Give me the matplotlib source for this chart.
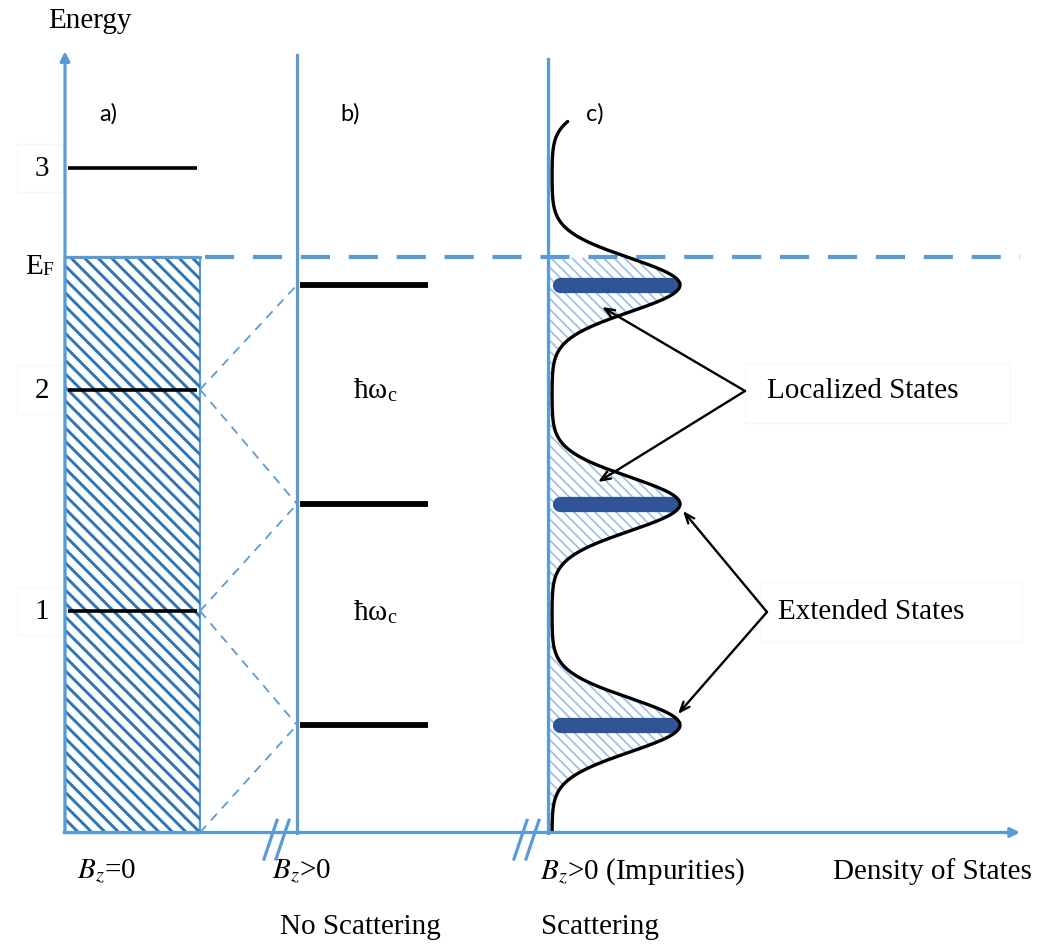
import numpy as np
import matplotlib
matplotlib.use("Agg")
import matplotlib.pyplot as plt
from matplotlib.patches import Polygon, Rectangle
from matplotlib.collections import LineCollection

# ---- data (energies in units of the zero-field level spacing) ----
zero_field_levels = [1.0, 2.0, 3.0]
zero_field_labels = ["1", "2", "3"]
landau_levels = [0.485, 1.483, 2.472]
dos_peak_energies = [0.485, 1.483, 2.472, 3.46]
fermi_energy = 2.596
dos_peak_height = 128.0      # broadened DOS peak height (arb. units)
dos_background = 4.0         # DOS between peaks
dos_broadening = 0.122       # Gaussian width of each broadened level
dos_curve_top = 3.21         # energy where the drawn DOS curve stops
connector_pairs = [(0.0, 0.485), (1.0, 0.485), (1.0, 1.483), (2.0, 1.483), (2.0, 2.472)]

# ---- styling ----
AXIS_BLUE = "#5b9bd5"
HATCH_BLUE = "#2e75b6"
LIGHT_HATCH = "#9dc3e6"
BAR_BLUE = "#2f5597"
BOX_GREY = "#f7f7f7"
SERIF = "Liberation Serif"
SANS = "Lato"
plt.rcParams["mathtext.fontset"] = "stix"

W, H = 1045, 945
PX_PER_E = 221.5
E0_PX = 833.5

fig = plt.figure(figsize=(W / 100, H / 100), dpi=100)
ax = fig.add_axes([0, 0, 1, 1])
ax.set_xlim(0, W)
ax.set_ylim(-(H - E0_PX) / PX_PER_E, E0_PX / PX_PER_E)
ax.axis("off")

# panel origins on the density-of-states axis
XA, XB, XC = 65, 297, 548
X_END = 1020
Y_TOP_A, Y_TOP_B, Y_TOP_C = 3.527, 3.51, 3.49


def hatch(patch, spacing, color, lw):
    """Diagonal (top-left to bottom-right) hatching clipped to a patch."""
    ext = patch.get_window_extent()
    x0, y0, x1, y1 = ext.x0, ext.y0, ext.x1, ext.y1
    h = y1 - y0
    segs = []
    inv = ax.transData.inverted()
    c = x0 - h
    while c < x1:
        segs.append(inv.transform([(c, y1), (c + h, y0)]))
        c += spacing
    lc = LineCollection(segs, colors=color, linewidths=lw, zorder=patch.get_zorder() + 0.1)
    ax.add_collection(lc)
    lc.set_clip_path(patch)


def epx(y_px):
    """Energy value at a given image row."""
    return (E0_PX - y_px) / PX_PER_E


# ---- panel a): B = 0, continuous spectrum filled up to E_F ----
rect = Rectangle((XA, 0), 200 - XA, fermi_energy, facecolor="white",
                 edgecolor=AXIS_BLUE, lw=1.6, zorder=2)
ax.add_patch(rect)
hatch(rect, 13.5, HATCH_BLUE, 2.1)
for e in zero_field_levels:
    ax.plot([XA + 3, 197], [e, e], color="black", lw=2.6, zorder=4, solid_capstyle="butt")

# connectors between zero-field levels and Landau levels
for e_a, e_b in connector_pairs:
    ax.plot([200, XB], [e_a, e_b], color=AXIS_BLUE, lw=1.3, ls=(0, (5, 4)), zorder=1)

# ---- panel b): Landau levels without scattering ----
for e in landau_levels:
    ax.plot([XB + 3, 428], [e, e], color="black", lw=4.2, zorder=4, solid_capstyle="butt")

# ---- panel c): broadened Landau levels ----
E = np.linspace(0.0, dos_curve_top, 800)
dos = dos_background + sum(dos_peak_height * np.exp(-(E - ec) ** 2 / (2 * dos_broadening ** 2))
                           for ec in dos_peak_energies)
filled = E <= fermi_energy
poly_pts = np.vstack([
    np.column_stack([XC + dos[filled], E[filled]]),
    [[XC, E[filled][-1]], [XC, 0.0]],
])
fill_poly = Polygon(poly_pts, closed=True, facecolor="none", edgecolor="none", zorder=2)
ax.add_patch(fill_poly)
hatch(fill_poly, 10.5, LIGHT_HATCH, 1.3)
ax.plot(XC + dos, E, color="black", lw=2.4, zorder=5, solid_capstyle="round")
for e in landau_levels:
    ax.plot([XC + 12, XC + dos_background + dos_peak_height - 9], [e, e],
            color=BAR_BLUE, lw=11, zorder=4, solid_capstyle="round")

# ---- Fermi level ----
ax.plot([XA, 200], [fermi_energy, fermi_energy], color=AXIS_BLUE, lw=2.2, zorder=3)
ax.plot([205, X_END], [fermi_energy, fermi_energy], color=AXIS_BLUE, lw=3.0,
        ls=(0, (7, 4.5)), zorder=3, dash_capstyle="butt")

# ---- axes ----
axis_arrow = dict(arrowstyle="-|>,head_length=0.55,head_width=0.28",
                  color=AXIS_BLUE, lw=2.3, shrinkA=0, shrinkB=0)
ax.annotate("", xy=(XA, Y_TOP_A), xytext=(XA, 0), arrowprops=axis_arrow, zorder=6)
ax.annotate("", xy=(X_END, 0), xytext=(XA - 1, 0), arrowprops=axis_arrow, zorder=6)
ax.plot([XB, XB], [0, Y_TOP_B], color=AXIS_BLUE, lw=2.3, zorder=6)
ax.plot([XC, XC], [0, Y_TOP_C], color=AXIS_BLUE, lw=2.3, zorder=3)

# axis breaks
for xb in (264, 514):
    for dx in (0, 12):
        ax.plot([xb + dx, xb + dx + 13], [-0.12, 0.055], color=AXIS_BLUE, lw=2.3, zorder=6)

# ---- text ----
ax.text(48, 3.67, "Energy", family=SERIF, fontsize=21, va="center", ha="left")
for e, lab in zip(zero_field_levels, zero_field_labels):
    ax.text(42, e, lab, family=SERIF, fontsize=21, va="center", ha="center")
    ax.add_patch(Rectangle((17, e - 0.11), 46, 0.22, facecolor="none",
                           edgecolor=BOX_GREY, lw=1.0, zorder=0))
ax.text(25, fermi_energy - 0.04, "E", family=SERIF, fontsize=21, va="center", ha="left")
ax.text(42.5, fermi_energy - 0.055, "F", family=SERIF, fontsize=14, va="center", ha="left")

for x, lab in ((108, "a)"), (350, "b)"), (595, "c)")):
    ax.text(x, 3.25, lab, family=SANS, fontsize=17, va="center", ha="center")

for x, e in ((375, 2.0), (375, 1.0)):
    ax.text(x, e, r"ħω$_{\mathregular{c}}$", family=SERIF, fontsize=21, va="center", ha="center")

ax.text(767, 2.0, "Localized States", family=SERIF, fontsize=21, va="center", ha="left")
ax.add_patch(Rectangle((745, 1.85), 265, 0.27, facecolor="none", edgecolor=BOX_GREY, lw=1.0, zorder=0))
ax.text(778, 1.0, "Extended States", family=SERIF, fontsize=21, va="center", ha="left")
ax.add_patch(Rectangle((760, 0.86), 262, 0.27, facecolor="none", edgecolor=BOX_GREY, lw=1.0, zorder=0))

arrow_kw = dict(arrowstyle="->,head_length=0.7,head_width=0.28", color="black", lw=1.7,
                shrinkA=0, shrinkB=0)
loc_vertex = (745, epx(392))
for tip in ((602, epx(308)), (598, epx(483))):
    ax.annotate("", xy=tip, xytext=loc_vertex, arrowprops=arrow_kw, zorder=7)
ext_vertex = (767, epx(613))
for tip in ((683, epx(512)), (678, epx(715))):
    ax.annotate("", xy=tip, xytext=ext_vertex, arrowprops=arrow_kw, zorder=7)

ylab, ylab2 = epx(872), epx(927)
ax.text(77, ylab, r"$B_z$=0", family=SERIF, fontsize=21, va="center", ha="left")
ax.text(272, ylab, r"$B_z$>0", family=SERIF, fontsize=21, va="center", ha="left")
ax.text(280, ylab2, "No Scattering", family=SERIF, fontsize=21, va="center", ha="left")
ax.text(540, ylab, r"$B_z$>0 (Impurities)", family=SERIF, fontsize=21, va="center", ha="left")
ax.text(541, ylab2, "Scattering", family=SERIF, fontsize=21, va="center", ha="left")
ax.text(833, ylab, "Density of States", family=SERIF, fontsize=21, va="center", ha="left")

fig.savefig("out.png", dpi=100, facecolor="white")
